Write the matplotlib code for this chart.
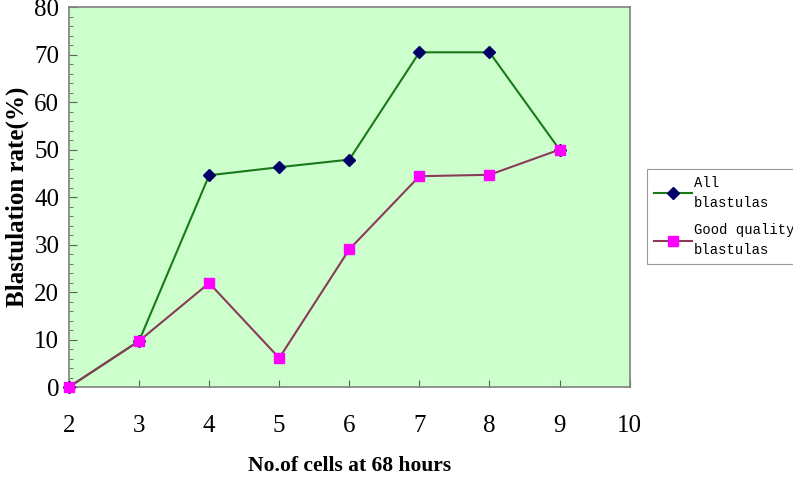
import matplotlib
matplotlib.use('Agg')
import matplotlib.pyplot as plt
from matplotlib.ticker import MultipleLocator

cells = [2, 3, 4, 5, 6, 7, 8, 9]
all_blast = [0, 9.7, 44.6, 46.3, 47.9, 70.5, 70.5, 50.0]
good_blast = [0, 9.7, 21.9, 6.1, 29.0, 44.4, 44.7, 50.0]

fig = plt.figure(figsize=(7.93, 4.79), dpi=100)
ax = fig.add_axes([0.087, 0.192, 0.707, 0.793])
ax.set_facecolor('#ccffcc')

ax.plot(cells, all_blast, '-', color='#1a7a1a', lw=1.5, marker='D', ms=6,
        mfc='#000066', mec='#000066', label='All\nblastulas', clip_on=False, zorder=3)
ax.plot(cells, good_blast, '-', color='#8b3a5a', lw=1.5, marker='s', ms=7,
        mfc='#ff00ff', mec='#ff00ff', label='Good quality\nblastulas', clip_on=False, zorder=4)

ax.set_xlim(2, 10)
ax.set_ylim(0, 80)
ax.xaxis.set_major_locator(MultipleLocator(1))
ax.yaxis.set_major_locator(MultipleLocator(10))
ax.yaxis.set_minor_locator(MultipleLocator(2))

for s in ax.spines.values():
    s.set_color('#808080')
    s.set_linewidth(1.2)

ax.tick_params(axis='x', direction='in', length=5, color='#606060', pad=20)
ax.tick_params(axis='y', which='major', direction='in', length=6, color='#606060', pad=7)
ax.tick_params(axis='y', which='minor', direction='in', length=3, color='#606060')
for lab in ax.get_xticklabels() + ax.get_yticklabels():
    lab.set_fontfamily('Liberation Serif')
    lab.set_fontsize(18)

ax.set_xlabel('No.of cells at 68 hours', fontfamily='Liberation Serif',
              fontweight='bold', fontsize=15.5, labelpad=14)
ax.set_ylabel('Blastulation rate(%)', fontfamily='Liberation Serif',
              fontweight='bold', fontsize=18, labelpad=4)

leg = fig.legend(loc='upper left', bbox_to_anchor=(0.816, 0.648),
                 prop={'family': 'Liberation Mono', 'size': 10},
                 frameon=True, fancybox=False, handlelength=2.7,
                 labelspacing=0.9, borderpad=0.5, handletextpad=0.15,
                 borderaxespad=0)
leg.get_frame().set_edgecolor('#808080')
leg.get_frame().set_linewidth(0.8)
for t in leg.get_texts():
    t.set_linespacing(1.6)

plt.savefig('out.png', dpi=100)
